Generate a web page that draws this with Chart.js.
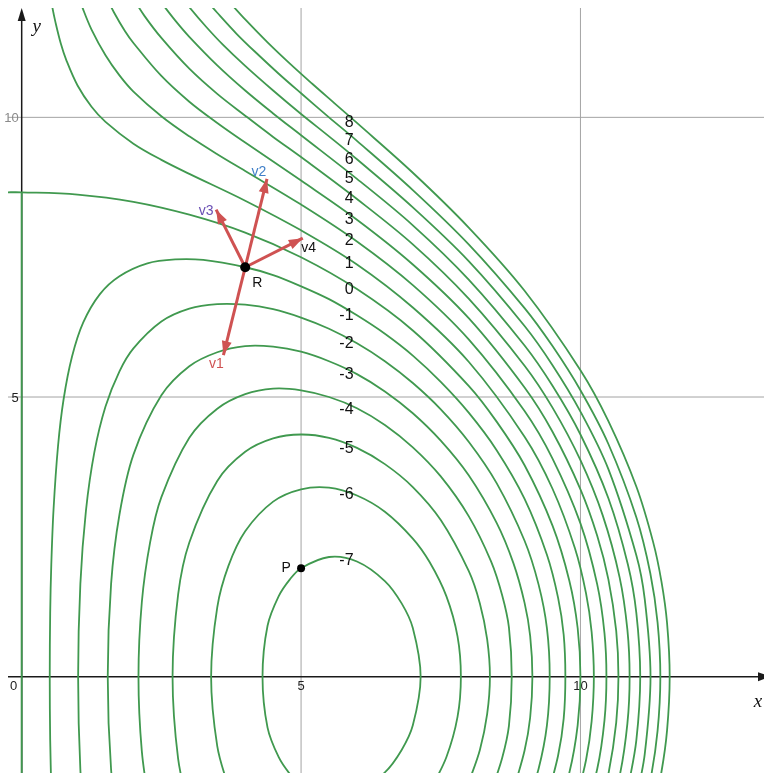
<!DOCTYPE html>
<html>
<head>
<meta charset="utf-8">
<script src="https://cdn.jsdelivr.net/npm/chart.js@4.4.0/dist/chart.umd.min.js"></script>
<style>
  html, body { margin: 0; padding: 0; background: #ffffff; }
  #wrap { position: relative; width: 764px; height: 773px; }
</style>
</head>
<body>
<div id="wrap"><canvas id="myChart"></canvas></div>
<script>
// contour levels, and where each level's number is written (y value)
const levels = [-7, -6, -5, -4, -3, -2, -1, 0, 1, 2, 3, 4, 5, 6, 7, 8];
const levelLabelX = 5.94;
const levelLabelY = [2.07, 3.25, 4.08, 4.78, 5.40, 5.95, 6.45, 6.92, 7.38, 7.80, 8.17, 8.54, 8.90, 9.24, 9.59, 9.90];

// level curves, points as [x, y]
const curveM7 = [[5.0,-1.94],[4.8,-1.74],[4.6,-1.44],[4.4,-0.91],[4.31,0],[4.4,0.91],[4.6,1.44],[4.8,1.74],[5.0,1.94],[5.5,2.14],[6.0,2.06],[6.5,1.71],[6.8,1.31],[7.0,0.87],[7.14,0],[7.0,-0.87],[6.8,-1.31],[6.5,-1.71],[6.0,-2.06]];
const curveM6 = [[3.7,-1.98],[3.5,-1.24],[3.39,0],[3.5,1.24],[3.7,1.98],[4.0,2.60],[4.5,3.13],[5.0,3.35],[5.5,3.38],[6.0,3.24],[6.5,2.95],[7.0,2.47],[7.3,2.05],[7.6,1.44],[7.8,0.72],[7.86,0],[7.8,-0.72],[7.6,-1.44],[7.3,-2.05]];
const curveM5 = [[3.0,-2.40],[2.8,-1.47],[2.70,0],[2.8,1.47],[3.0,2.40],[3.5,3.50],[4.0,4.02],[4.5,4.26],[5.0,4.33],[5.5,4.27],[6.0,4.09],[6.5,3.80],[7.0,3.39],[7.5,2.80],[8.0,1.89],[8.2,1.31],[8.33,0.67],[8.38,0],[8.33,-0.67],[8.2,-1.31],[8.0,-1.89]];
const curveM4 = [[2.3,-2.41],[2.15,-1.33],[2.09,0],[2.15,1.33],[2.3,2.41],[2.5,3.21],[3.0,4.27],[3.5,4.79],[4.0,5.05],[4.5,5.15],[5.0,5.12],[5.5,5.00],[6.0,4.80],[6.5,4.50],[7.0,4.10],[7.5,3.58],[8.0,2.87],[8.4,2.06],[8.6,1.45],[8.72,0.88],[8.77,0],[8.72,-0.88],[8.6,-1.45],[8.4,-2.06]];
const curveM3 = [[1.75,-2.90],[1.6,-1.66],[1.54,0],[1.6,1.66],[1.75,2.90],[2.0,3.97],[2.5,5.03],[3.0,5.55],[3.5,5.80],[4.0,5.91],[4.5,5.90],[5.0,5.81],[5.5,5.64],[6.0,5.41],[6.5,5.10],[7.0,4.71],[7.5,4.22],[8.0,3.60],[8.5,2.75],[8.8,2.03],[9.0,1.32],[9.1,0.73],[9.14,0],[9.1,-0.73],[9.0,-1.32],[8.8,-2.03]];
const curveM2 = [[1.15,-2.97],[1.05,-1.66],[1.01,0],[1.05,1.66],[1.15,2.97],[1.3,4.01],[1.5,4.83],[1.75,5.46],[2.0,5.87],[2.5,6.35],[3.0,6.58],[3.5,6.66],[4.0,6.65],[4.5,6.57],[5.0,6.42],[5.5,6.22],[6.0,5.96],[6.5,5.64],[7.0,5.25],[7.5,4.78],[8.0,4.20],[8.5,3.46],[9.0,2.43],[9.25,1.65],[9.4,0.87],[9.45,0],[9.4,-0.87],[9.25,-1.65],[9.0,-2.43]];
const curveM1 = [[0.53,-2.01],[0.51,-1.13],[0.502,0],[0.51,1.13],[0.53,2.01],[0.57,2.99],[0.65,4.12],[0.75,4.96],[0.9,5.72],[1.1,6.33],[1.4,6.84],[1.75,7.16],[2.25,7.39],[2.75,7.46],[3.25,7.45],[4.0,7.32],[4.5,7.18],[5.0,6.98],[5.5,6.75],[6.0,6.46],[6.5,6.13],[7.0,5.74],[7.5,5.27],[8.0,4.72],[8.5,4.05],[9.0,3.18],[9.4,2.18],[9.6,1.41],[9.7,0.75],[9.73,0],[9.7,-0.75],[9.6,-1.41],[9.4,-2.18]];
const curve0 = [[-0.3,8.66],[0,8.66],[1,8.62],[2,8.49],[3,8.26],[4,7.94],[5,7.5],[6,6.93],[7,6.19],[8,5.20],[8.5,4.56],[9,3.78],[9.5,2.70],[9.8,1.72],[9.95,0.87],[10,0],[9.95,-0.87],[9.8,-1.72],[9.5,-2.70]];
const curve0Line = [[0,-2],[0,8.66]];
const curveP1 = [[0.5,12.24],[0.55,11.96],[0.6,11.72],[0.7,11.32],[0.8,11.02],[1.0,10.57],[1.25,10.19],[1.5,9.92],[2.0,9.53],[2.5,9.24],[3.0,8.99],[4.0,8.51],[5.0,7.98],[6.0,7.37],[7.0,6.60],[8.0,5.63],[9.0,4.29],[9.5,3.36],[9.9,2.30],[10.1,1.49],[10.2,0.80],[10.24,0],[10.2,-0.80],[10.1,-1.49],[9.9,-2.30]];
const curveP2 = [[1.0,12.22],[1.1,11.93],[1.25,11.57],[1.5,11.11],[1.75,10.75],[2.0,10.46],[2.5,10.02],[3.0,9.66],[3.5,9.34],[4.0,9.04],[5.0,8.44],[6.0,7.78],[7.0,7.00],[8.0,6.03],[9.0,4.75],[9.5,3.90],[10.0,2.74],[10.3,1.65],[10.43,0.78],[10.465,0],[10.43,-0.78],[10.3,-1.65],[10.0,-2.74]];
const curveP3 = [[1.5,12.18],[1.65,11.88],[1.85,11.54],[2.0,11.33],[2.5,10.74],[3.0,10.28],[3.5,9.90],[4.0,9.55],[5.0,8.87],[6.0,8.17],[7.0,7.37],[8.0,6.41],[9.0,5.17],[9.5,4.38],[10.0,3.35],[10.3,2.52],[10.5,1.74],[10.64,0.82],[10.68,0],[10.64,-0.82],[10.5,-1.74],[10.3,-2.52]];
const curveP4 = [[2.0,12.12],[2.2,11.81],[2.5,11.42],[3.0,10.87],[3.5,10.42],[4.0,10.03],[4.5,9.65],[5.0,9.29],[6.0,8.54],[7.0,7.73],[8.0,6.76],[9.0,5.56],[9.5,4.81],[10.0,3.87],[10.4,2.88],[10.7,1.78],[10.84,0.84],[10.88,0],[10.84,-0.84],[10.7,-1.78],[10.4,-2.88]];
const curveP5 = [[2.5,12.05],[2.75,11.73],[3.0,11.44],[3.5,10.93],[4.0,10.48],[4.5,10.07],[5.0,9.68],[6.0,8.90],[7.0,8.07],[8.0,7.10],[9.0,5.92],[9.5,5.20],[10.0,4.33],[10.5,3.19],[10.85,2.00],[11.0,1.14],[11.07,0],[11.0,-1.14],[10.85,-2.00]];
const curveP6 = [[2.8,12.23],[3.0,11.97],[3.3,11.62],[3.6,11.30],[4.0,10.92],[4.5,10.48],[5.0,10.06],[5.5,9.66],[6.0,9.25],[7.0,8.39],[8.0,7.43],[9.0,6.27],[9.5,5.57],[10.0,4.74],[10.5,3.71],[11.0,2.17],[11.15,1.39],[11.254,0],[11.15,-1.39],[11.0,-2.17]];
const curveP7 = [[3.3,12.10],[3.5,11.87],[3.85,11.49],[4.2,11.15],[4.6,10.78],[5.0,10.43],[5.5,10.00],[6.0,9.58],[7.0,8.70],[8.0,7.73],[9.0,6.59],[9.5,5.91],[10.0,5.12],[10.5,4.16],[11.0,2.85],[11.25,1.85],[11.38,0.97],[11.43,0],[11.38,-0.97],[11.25,-1.85],[11.0,-2.85]];
const curveP8 = [[3.7,12.08],[4.0,11.75],[4.4,11.34],[4.8,10.96],[5.2,10.60],[5.6,10.25],[6.0,9.90],[7.0,9.01],[8.0,8.03],[9.0,6.90],[10.0,5.48],[10.5,4.57],[11.0,3.40],[11.3,2.41],[11.45,1.70],[11.55,0.96],[11.597,0],[11.55,-0.96],[11.45,-1.70],[11.3,-2.41]];

// points and vectors
const pointR = [4.0, 7.32];
const pointP = [5.0, 1.94];
const vecNames = ['v1', 'v2', 'v3', 'v4'];
const vecTips = [[3.61, 5.75], [4.39, 8.90], [3.48, 8.35], [5.03, 7.84]];

// axis ticks
const xTicks = [0, 5, 10];
const yTicks = [5, 10];
const gridX = [5, 10];
const gridY = [5, 10];

const allCurves = [curveM7, curveM6, curveM5, curveM4, curveM3, curveM2, curveM1, curve0, curveP1, curveP2, curveP3, curveP4, curveP5, curveP6, curveP7, curveP8, curve0Line];

const GREEN = '#40994f';
const ARROW = '#cf5252';
const vecLabelColors = ['#cf5252', '#3f7fc8', '#6a4fb4', '#111111'];
const vecLabelOffsets = [[-7, 9], [-8, -7], [-10, 2], [6, 10]];

function toPts(arr) {
    return arr.map(p => ({ x: p[0], y: p[1] }));
}

// grid lines and axes, drawn under the curves
const backgroundPlugin = {
    id: 'background',
    beforeDatasetsDraw(chart) {
        const ctx = chart.ctx;
        const xs = chart.scales.x;
        const ys = chart.scales.y;
        const area = chart.chartArea;
        ctx.save();

        ctx.strokeStyle = '#a3a3a3';
        ctx.lineWidth = 1;
        gridX.forEach(v => {
            const px = xs.getPixelForValue(v);
            ctx.beginPath();
            ctx.moveTo(px, area.top);
            ctx.lineTo(px, area.bottom);
            ctx.stroke();
        });
        gridY.forEach(v => {
            const py = ys.getPixelForValue(v);
            ctx.beginPath();
            ctx.moveTo(area.left, py);
            ctx.lineTo(area.right, py);
            ctx.stroke();
        });

        const x0 = xs.getPixelForValue(0);
        const y0 = ys.getPixelForValue(0);
        ctx.strokeStyle = '#1a1a1a';
        ctx.fillStyle = '#1a1a1a';
        ctx.lineWidth = 1.5;
        // x axis
        ctx.beginPath();
        ctx.moveTo(area.left, y0);
        ctx.lineTo(area.right, y0);
        ctx.stroke();
        ctx.beginPath();
        ctx.moveTo(771, y0);
        ctx.lineTo(758, y0 - 4.5);
        ctx.lineTo(758, y0 + 4.5);
        ctx.closePath();
        ctx.fill();
        // y axis
        ctx.beginPath();
        ctx.moveTo(x0, area.bottom);
        ctx.lineTo(x0, area.top + 6);
        ctx.stroke();
        ctx.beginPath();
        ctx.moveTo(x0, area.top);
        ctx.lineTo(x0 - 4, area.top + 13);
        ctx.lineTo(x0 + 4, area.top + 13);
        ctx.closePath();
        ctx.fill();

        // tick labels
        ctx.font = '13px "Liberation Sans", Arial, sans-serif';
        ctx.textBaseline = 'middle';
        ctx.textAlign = 'center';
        xTicks.forEach(v => {
            const px = xs.getPixelForValue(v);
            ctx.fillStyle = '#222';
            // the origin label sits left of the y axis
            ctx.fillText(String(v), v === 0 ? px - 8 : px, y0 + 10);
        });
        yTicks.forEach(v => {
            const py = ys.getPixelForValue(v);
            ctx.textAlign = 'right';
            ctx.fillStyle = v === 10 ? '#8a8a8a' : '#222';
            ctx.fillText(String(v), x0 - 3, py + 1);
        });

        // axis names
        ctx.fillStyle = '#111';
        ctx.font = 'italic 19px "Liberation Serif", "DejaVu Serif", serif';
        ctx.textAlign = 'center';
        ctx.fillText('y', x0 + 15, area.top + 19);
        ctx.fillText('x', 758, y0 + 25);
        ctx.restore();
    }
};

// arrowheads, level numbers and point names, drawn on top
const labelPlugin = {
    id: 'labels',
    afterDatasetsDraw(chart) {
        const ctx = chart.ctx;
        const xs = chart.scales.x;
        const ys = chart.scales.y;
        ctx.save();

        const rx = xs.getPixelForValue(pointR[0]);
        const ry = ys.getPixelForValue(pointR[1]);
        vecTips.forEach((tip, i) => {
            const tx = xs.getPixelForValue(tip[0]);
            const ty = ys.getPixelForValue(tip[1]);
            const ang = Math.atan2(ty - ry, tx - rx);
            const len = 14, half = 5;
            const bx = tx - len * Math.cos(ang);
            const by = ty - len * Math.sin(ang);
            ctx.fillStyle = ARROW;
            ctx.beginPath();
            ctx.moveTo(tx, ty);
            ctx.lineTo(bx + half * Math.sin(ang), by - half * Math.cos(ang));
            ctx.lineTo(bx - half * Math.sin(ang), by + half * Math.cos(ang));
            ctx.closePath();
            ctx.fill();

            ctx.font = '14px "Liberation Sans", Arial, sans-serif';
            ctx.textAlign = 'center';
            ctx.textBaseline = 'middle';
            ctx.fillStyle = vecLabelColors[i];
            ctx.fillText(vecNames[i], tx + vecLabelOffsets[i][0], ty + vecLabelOffsets[i][1]);
        });

        // dots on top of the arrows
        ctx.fillStyle = '#000';
        ctx.beginPath();
        ctx.arc(rx, ry, 5, 0, Math.PI * 2);
        ctx.fill();
        const px = xs.getPixelForValue(pointP[0]);
        const py = ys.getPixelForValue(pointP[1]);
        ctx.beginPath();
        ctx.arc(px, py, 4, 0, Math.PI * 2);
        ctx.fill();

        ctx.font = '14px "Liberation Sans", Arial, sans-serif';
        ctx.textBaseline = 'middle';
        ctx.fillStyle = '#111';
        ctx.textAlign = 'center';
        ctx.fillText('R', rx + 12, ry + 16);
        ctx.fillText('P', px - 15, py);

        // level numbers
        ctx.font = '16px "Liberation Sans", Arial, sans-serif';
        ctx.textAlign = 'right';
        ctx.fillStyle = '#111';
        const lx = xs.getPixelForValue(levelLabelX);
        levels.forEach((lv, i) => {
            ctx.fillText(String(lv), lx, ys.getPixelForValue(levelLabelY[i]));
        });
        ctx.restore();
    }
};

const datasets = [];
vecTips.forEach(tip => {
    datasets.push({
        data: toPts([pointR, tip]),
        showLine: true,
        borderColor: ARROW,
        borderWidth: 3,
        pointRadius: 0,
        tension: 0,
        order: 0
    });
});
allCurves.forEach(c => {
    datasets.push({
        data: toPts(c),
        showLine: true,
        borderColor: GREEN,
        borderWidth: 1.8,
        pointRadius: 0,
        tension: 0.35,
        order: 1
    });
});

const ctx = document.getElementById('myChart').getContext('2d');
const contourChart = new Chart(ctx, {
    type: 'scatter',
    data: { datasets: datasets },
    options: {
        responsive: true,
        maintainAspectRatio: false,
        animation: false,
        layout: { padding: { left: 8, top: 8, right: 0, bottom: 0 } },
        elements: { line: { capBezierPoints: false } },
        scales: {
            x: { type: 'linear', min: -0.245, max: 13.285, display: false },
            y: { type: 'linear', min: -1.722, max: 11.955, display: false }
        },
        plugins: {
            legend: { display: false },
            tooltip: { enabled: false }
        }
    },
    plugins: [backgroundPlugin, labelPlugin]
});
</script>
</body>
</html>
